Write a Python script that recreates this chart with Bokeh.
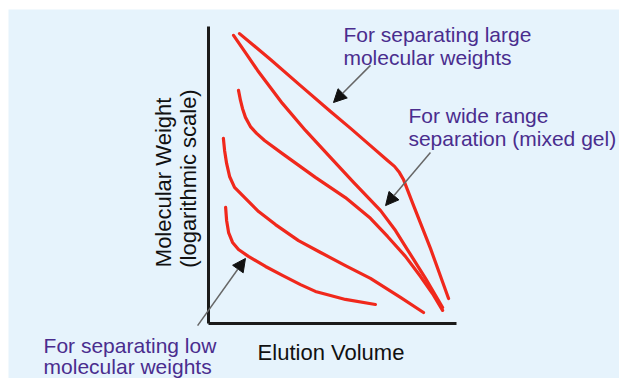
from bokeh.plotting import figure
from bokeh.models import Range1d, Label, Arrow, NormalHead, LinearAxis, FixedTicker
from bokeh.embed import file_html
from bokeh.resources import INLINE

# Curves: elution volume (x, 0-100) vs log molecular weight (y, 0-100)
large_x = [12.5, 25.0, 37.1, 49.2, 57.3, 65.3, 72.2, 75.0, 77.0, 78.6, 80.2, 82.7, 89.5, 96.8]
large_y = [97.6, 88.9, 80.1, 71.4, 65.7, 59.9, 54.9, 52.9, 50.8, 48.5, 45.1, 39.7, 25.3, 8.4]

mixed_x = [10.1, 14.9, 19.8, 29.8, 39.1, 48.4, 58.5, 69.4, 75.4, 80.2, 87.5, 94.4]
mixed_y = [97.0, 91.2, 85.2, 74.1, 65.0, 56.6, 47.5, 38.0, 31.3, 24.9, 15.2, 5.4]

mid_x = [12.1, 12.9, 13.7, 14.9, 16.9, 19.4, 22.6, 29.8, 43.1, 55.2, 65.3, 72.2, 79.4, 85.5, 90.3, 94.4]
mid_y = [78.5, 75.1, 72.4, 69.4, 66.3, 64.0, 61.6, 57.2, 49.2, 42.4, 35.4, 29.3, 22.6, 15.8, 10.1, 4.4]

lowmid_x = [6.0, 6.5, 7.3, 8.5, 10.5, 14.9, 20.2, 27.0, 36.3, 45.2, 55.2, 65.3, 77.4, 86.7]
lowmid_y = [62.3, 58.2, 53.9, 49.5, 45.8, 42.1, 37.7, 33.3, 27.9, 23.9, 19.5, 15.2, 8.8, 3.7]

low_x = [6.9, 7.3, 8.1, 9.7, 12.1, 16.1, 23.0, 29.8, 37.1, 43.1, 49.2, 55.2, 67.3]
low_y = [39.1, 34.7, 30.6, 27.3, 24.9, 22.6, 19.2, 16.2, 13.1, 10.8, 9.4, 8.1, 6.4]

curves = [(large_x, large_y), (mixed_x, mixed_y), (mid_x, mid_y),
          (lowmid_x, lowmid_y), (low_x, low_y)]

# axis extents (data units)
axis_min = 0
axis_max = 100

# annotation arrows: (tail_x, tail_y, head_x, head_y)
arrows = [(65.3, 86.9, 50.4, 74.4),
          (89.5, 57.6, 71.4, 39.7),
          (-4.4, -0.7, 14.9, 21.9)]

# annotation texts: (x, y, text)
notes = [(54.4, 97.3, "For separating large"),
         (54.4, 89.6, "molecular weights"),
         (80.6, 70.0, "For wide range"),
         (80.6, 62.3, "separation (mixed gel)"),
         (-66.5, -7.4, "For separating low"),
         (-66.5, -14.6, "molecular weights")]

x_label = "Elution Volume"
y_label1 = "Molecular Weight"
y_label2 = "(logarithmic scale)"

BG = "#e6f3fc"
RED = "#f0281c"
PURPLE = "#4a2d8e"
FONT = "Liberation Sans"

p = figure(width=611, height=369, output_backend="svg", toolbar_location=None,
           x_range=Range1d(-80.65, 165.73), y_range=Range1d(-18.52, 105.72),
           x_axis_location=None, y_axis_location=None,
           min_border=0)
p.margin = (9, 0, 0, 8)
p.background_fill_color = BG
p.border_fill_color = BG
p.outline_line_color = None
p.grid.visible = False

yax = LinearAxis(fixed_location=axis_min, bounds=(axis_min, axis_max),
                 ticker=FixedTicker(ticks=[]))
xax = LinearAxis(fixed_location=axis_min, bounds=(axis_min, axis_max),
                 ticker=FixedTicker(ticks=[]))
for ax in (xax, yax):
    ax.axis_line_width = 3
    ax.axis_line_color = "#1a1a1a"
    ax.major_tick_line_color = None
    ax.minor_tick_line_color = None
    ax.major_tick_out = 0
    ax.major_tick_in = 0
    ax.major_label_standoff = 0
    ax.axis_label_standoff = 0
p.add_layout(yax, "left")
p.add_layout(xax, "below")

for xs, ys in curves:
    p.line(xs, ys, line_color=RED, line_width=3.2, line_join="round", line_cap="round")

for tx, ty, hx, hy in arrows:
    p.add_layout(Arrow(x_start=tx, y_start=ty, x_end=hx, y_end=hy,
                       line_color="#666666", line_width=1.5,
                       end=NormalHead(size=13, fill_color="#111111", line_color="#111111")))

for x, y, t in notes:
    p.add_layout(Label(x=x, y=y, text=t, text_color=PURPLE, text_font=FONT,
                       text_font_size="21px", text_baseline="alphabetic"))

p.add_layout(Label(x=19.8, y=-9.8, text=x_label, text_color="#111111", text_font=FONT,
                   text_font_size="22px", text_baseline="alphabetic"))
p.add_layout(Label(x=-18.1, y=47.5, text=y_label1, text_color="#111111", text_font=FONT,
                   text_font_size="22px", text_baseline="alphabetic", text_align="center",
                   angle=90, angle_units="deg"))
p.add_layout(Label(x=-8.1, y=48.8, text=y_label2, text_color="#111111", text_font=FONT,
                   text_font_size="22px", text_baseline="alphabetic", text_align="center",
                   angle=90, angle_units="deg"))

open("out.html", "w").write(file_html(p, INLINE))
